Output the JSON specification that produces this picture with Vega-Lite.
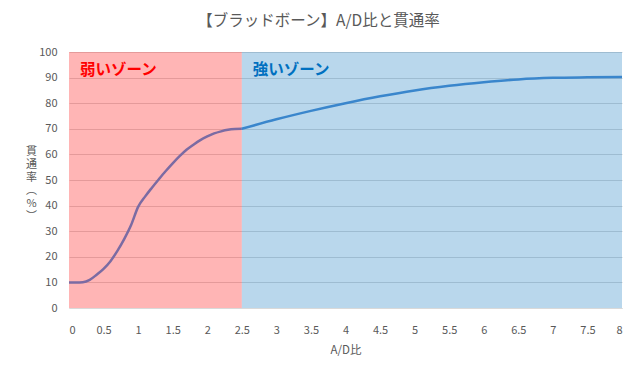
{
  "$schema": "https://vega.github.io/schema/vega-lite/v6.json",
  "width": 553,
  "height": 256,
  "autosize": {"type": "none"},
  "padding": {"left": 69, "top": 52, "right": 18, "bottom": 63},
  "background": "white",
  "config": {
    "view": {"stroke": null},
    "font": "Noto Sans CJK JP"
  },
  "title": {
    "text": "【ブラッドボーン】A/D比と貫通率",
    "fontSize": 15.5,
    "fontWeight": "normal",
    "color": "#595959",
    "anchor": "middle",
    "dx": -27,
    "offset": 17,
    "font": "Noto Sans CJK JP"
  },
  "datasets": {
    "zones": [
      {"zone": "弱い", "start": 0, "end": 2.5, "lo": 0, "hi": 100},
      {"zone": "強い", "start": 2.5, "end": 8, "lo": 0, "hi": 100}
    ],
    "curve": [
      {"ad": 0, "rate": 10, "zone": "弱い"},
      {"ad": 0.1, "rate": 10, "zone": "弱い"},
      {"ad": 0.2, "rate": 10.1, "zone": "弱い"},
      {"ad": 0.3, "rate": 11, "zone": "弱い"},
      {"ad": 0.4, "rate": 13, "zone": "弱い"},
      {"ad": 0.5, "rate": 15.3, "zone": "弱い"},
      {"ad": 0.6, "rate": 18.3, "zone": "弱い"},
      {"ad": 0.7, "rate": 22.3, "zone": "弱い"},
      {"ad": 0.8, "rate": 27, "zone": "弱い"},
      {"ad": 0.9, "rate": 32.5, "zone": "弱い"},
      {"ad": 1.0, "rate": 39.5, "zone": "弱い"},
      {"ad": 1.1, "rate": 43.5, "zone": "弱い"},
      {"ad": 1.2, "rate": 47, "zone": "弱い"},
      {"ad": 1.3, "rate": 50.3, "zone": "弱い"},
      {"ad": 1.4, "rate": 53.5, "zone": "弱い"},
      {"ad": 1.5, "rate": 56.5, "zone": "弱い"},
      {"ad": 1.6, "rate": 59.3, "zone": "弱い"},
      {"ad": 1.7, "rate": 61.8, "zone": "弱い"},
      {"ad": 1.8, "rate": 63.8, "zone": "弱い"},
      {"ad": 1.9, "rate": 65.6, "zone": "弱い"},
      {"ad": 2.0, "rate": 67, "zone": "弱い"},
      {"ad": 2.1, "rate": 68.2, "zone": "弱い"},
      {"ad": 2.2, "rate": 69, "zone": "弱い"},
      {"ad": 2.3, "rate": 69.6, "zone": "弱い"},
      {"ad": 2.4, "rate": 69.9, "zone": "弱い"},
      {"ad": 2.5, "rate": 70, "zone": "弱い"},
      {"ad": 2.5, "rate": 70, "zone": "強い"},
      {"ad": 3.0, "rate": 73.7, "zone": "強い"},
      {"ad": 3.5, "rate": 77, "zone": "強い"},
      {"ad": 4.0, "rate": 80, "zone": "強い"},
      {"ad": 4.5, "rate": 82.7, "zone": "強い"},
      {"ad": 5.0, "rate": 85, "zone": "強い"},
      {"ad": 5.5, "rate": 86.8, "zone": "強い"},
      {"ad": 6.0, "rate": 88.2, "zone": "強い"},
      {"ad": 6.5, "rate": 89.3, "zone": "強い"},
      {"ad": 7.0, "rate": 89.9, "zone": "強い"},
      {"ad": 7.5, "rate": 90.1, "zone": "強い"},
      {"ad": 8.0, "rate": 90.2, "zone": "強い"}
    ],
    "labels": [
      {"label": "弱いゾーン", "ad": 0.16, "rate": 93, "zone": "弱い"},
      {"label": "強いゾーン", "ad": 2.66, "rate": 93, "zone": "強い"}
    ]
  },
  "encoding": {
    "x": {
      "type": "quantitative",
      "scale": {"domain": [0, 8], "nice": false, "zero": false},
      "axis": {
        "values": [0, 0.5, 1, 1.5, 2, 2.5, 3, 3.5, 4, 4.5, 5, 5.5, 6, 6.5, 7, 7.5, 8],
        "format": "~g",
        "labelOverlap": false,
        "grid": false,
        "ticks": false,
        "domain": true,
        "domainColor": "#D9D9D9",
        "domainWidth": 1,
        "labelFontSize": 11,
        "labelColor": "#595959",
        "labelPadding": 16,
        "labelFont": "Noto Sans CJK JP",
        "title": "A/D比",
        "titleFontSize": 11.5,
        "titleFontWeight": "normal",
        "titleColor": "#595959",
        "titleFont": "Noto Sans CJK JP",
        "titlePadding": 9
      }
    },
    "y": {
      "type": "quantitative",
      "scale": {"domain": [0, 100], "nice": false},
      "axis": {
        "values": [0, 10, 20, 30, 40, 50, 60, 70, 80, 90, 100],
        "labelOverlap": false,
        "grid": true,
        "gridColor": "#D9D9D9",
        "gridWidth": 1,
        "ticks": false,
        "domain": false,
        "labelFontSize": 11,
        "labelColor": "#595959",
        "labelPadding": 12,
        "labelFont": "Noto Sans CJK JP",
        "title": ["貫", "通", "率", "︵", "%", "︶"],
        "titleAngle": 0,
        "titleAlign": "center",
        "titleBaseline": "top",
        "titleX": -38,
        "titleY": 93,
        "titleFontSize": 11,
        "titleLineHeight": 13,
        "titleFontWeight": "normal",
        "titleColor": "#595959",
        "titleFont": "Noto Sans CJK JP"
      }
    }
  },
  "layer": [
    {
      "data": {"name": "zones"},
      "mark": {"type": "rect", "opacity": 0.3},
      "encoding": {
        "x": {"field": "start", "type": "quantitative"},
        "x2": {"field": "end"},
        "y": {"field": "lo", "type": "quantitative"},
        "y2": {"field": "hi"},
        "color": {
          "field": "zone",
          "type": "nominal",
          "scale": {"domain": ["弱い", "強い"], "range": ["#FF0A0A", "#167AC0"]},
          "legend": null
        }
      }
    },
    {
      "data": {"name": "curve"},
      "mark": {"type": "line", "strokeWidth": 2.5, "interpolate": "monotone"},
      "encoding": {
        "x": {"field": "ad", "type": "quantitative"},
        "y": {"field": "rate", "type": "quantitative"},
        "detail": {"field": "zone"},
        "stroke": {
          "field": "zone",
          "type": "nominal",
          "scale": {"domain": ["弱い", "強い"], "range": ["#7B6BA3", "#3A86CC"]},
          "legend": null
        }
      }
    },
    {
      "data": {"name": "labels"},
      "mark": {"type": "text", "align": "left", "baseline": "middle", "fontSize": 15.5, "fontWeight": "bold", "font": "Noto Sans CJK JP"},
      "encoding": {
        "x": {"field": "ad", "type": "quantitative"},
        "y": {"field": "rate", "type": "quantitative"},
        "text": {"field": "label"},
        "fill": {
          "field": "zone",
          "type": "nominal",
          "scale": {"domain": ["弱い", "強い"], "range": ["#FF0000", "#0070C0"]},
          "legend": null
        }
      }
    }
  ],
  "resolve": {"scale": {"color": "independent", "stroke": "independent", "fill": "independent"}}
}
